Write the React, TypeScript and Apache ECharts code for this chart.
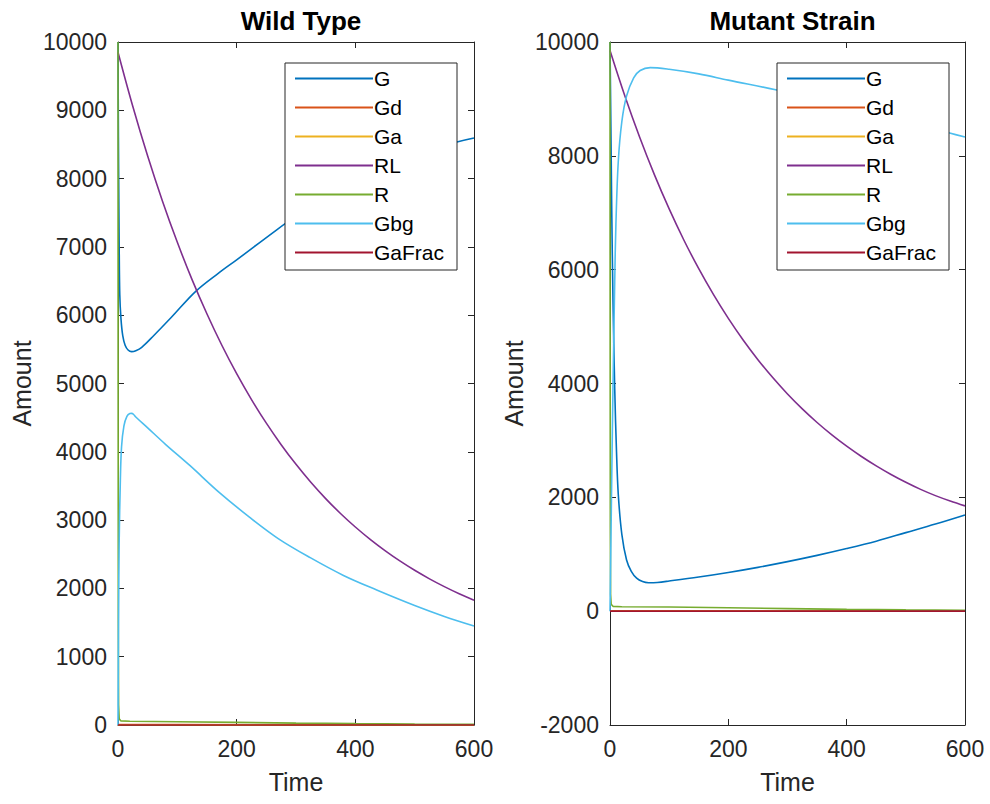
import React, { useEffect, useRef } from "react";
import * as echarts from "echarts";

// ---------- data ----------
const SERIES_NAMES = ["G", "Gd", "Ga", "RL", "R", "Gbg", "GaFrac"];
const SERIES_COLORS = ["#0072BD", "#D95319", "#EDB120", "#7E2F8E", "#77AC30", "#4DBEEE", "#A2142F"];
const PANEL_TITLES = ["Wild Type", "Mutant Strain"];
const X_TICKS = [0, 200, 400, 600];
const Y_RANGE_WILD = [0, 10000, 1000];
const Y_RANGE_MUTANT = [-2000, 10000, 2000];

// Wild type
const WT_G_T = [0, 0.5, 1, 2, 3, 5, 8, 12, 17, 23, 30, 40, 60, 90, 131, 170, 200, 267, 300, 350, 400, 450, 500, 550, 600];
const WT_G = [10000, 9000, 8200, 7000, 6300, 5950, 5700, 5560, 5490, 5466, 5480, 5530, 5700, 5970, 6350, 6620, 6810, 7247, 7450, 7730, 7970, 8180, 8350, 8490, 8594];
const WT_RL_T = [0, 25, 50, 75, 100, 125, 150, 175, 200, 225, 250, 275, 300, 325, 350, 375, 400, 425, 450, 475, 500, 525, 550, 575, 600];
const WT_RL = [9850, 9055, 8330, 7669, 7067, 6517, 6017, 5560, 5144, 4765, 4419, 4104, 3816, 3554, 3315, 3097, 2899, 2718, 2553, 2402, 2265, 2140, 2026, 1922, 1827];
const WT_GBG_T = [0, 0.5, 1, 2, 4, 6, 10, 15, 20, 23, 26, 30, 50, 80, 121, 170, 222, 270, 324, 380, 436, 500, 550, 600];
const WT_GBG = [0, 900, 1700, 2700, 3600, 4075, 4380, 4520, 4560, 4563, 4550, 4510, 4350, 4110, 3800, 3410, 3040, 2730, 2450, 2190, 1977, 1750, 1590, 1450];
const WT_R_T = [0, 0.2, 0.5, 1, 2, 5, 20, 100, 200, 300, 400, 500, 600];
const WT_R = [10000, 5000, 1500, 300, 90, 60, 55, 48, 38, 28, 20, 14, 10];
const WT_SMALL_T = [0, 1, 5, 20, 100, 300, 600];
const WT_GD = [0, 6, 8, 7, 6, 4, 3];
const WT_GA = [0, 3, 4, 4, 3, 2, 2];
const WT_GAFRAC = [0, 0.0003, 0.0004, 0.0004, 0.0003, 0.0002, 0.0002];

// Mutant strain
const MT_G_T = [0, 1, 2, 3, 5, 8, 11, 14, 20, 28, 36, 45, 55, 65, 80, 100, 150, 200, 250, 300, 350, 400, 450, 500, 550, 600];
const MT_G = [10000, 9000, 8000, 7000, 5500, 3900, 2800, 2050, 1350, 900, 700, 580, 520, 500, 505, 530, 600, 680, 770, 870, 980, 1100, 1230, 1380, 1530, 1690];
const MT_RL_T = [0, 25, 50, 75, 100, 125, 150, 175, 200, 225, 250, 275, 300, 325, 350, 375, 400, 425, 450, 475, 500, 525, 550, 575, 600];
const MT_RL = [9850, 9055, 8330, 7669, 7067, 6517, 6017, 5560, 5144, 4765, 4419, 4104, 3816, 3554, 3315, 3097, 2899, 2718, 2553, 2402, 2265, 2140, 2030, 1935, 1850];
const MT_GBG_T = [0, 1, 2, 3, 5, 8, 10, 14, 20, 28, 40, 51, 68, 100, 150, 200, 282, 350, 400, 450, 500, 574, 600];
const MT_GBG = [0, 800, 1600, 2400, 3900, 5800, 6800, 7900, 8600, 9050, 9370, 9500, 9550, 9520, 9440, 9330, 9156, 8990, 8860, 8730, 8600, 8400, 8330];
const MT_R_T = [0, 0.2, 0.5, 1, 2, 5, 20, 100, 200, 300, 400, 500, 600];
const MT_R = [10000, 5000, 1500, 300, 120, 85, 78, 72, 60, 45, 32, 22, 15];
const MT_SMALL_T = [0, 1, 5, 20, 100, 300, 600];
const MT_GD = [0, 6, 8, 7, 6, 4, 3];
const MT_GA = [0, 3, 4, 4, 3, 2, 2];
const MT_GAFRAC = [0, 0.0003, 0.0004, 0.0004, 0.0003, 0.0002, 0.0002];

// ---------- helpers ----------
const zip = (t: number[], v: number[]) => t.map((x, i) => [x, v[i]]);

const FONT = "'Liberation Sans', Arial, Helvetica, sans-serif";
const AXIS_COLOR = "#262626";

const PANELS = [
  {
    grid: { left: 118, top: 42, width: 356, height: 683 },
    yRange: Y_RANGE_WILD,
    legendLeft: 285,
    data: [
      zip(WT_G_T, WT_G),
      zip(WT_SMALL_T, WT_GD),
      zip(WT_SMALL_T, WT_GA),
      zip(WT_RL_T, WT_RL),
      zip(WT_R_T, WT_R),
      zip(WT_GBG_T, WT_GBG),
      zip(WT_SMALL_T, WT_GAFRAC),
    ],
  },
  {
    grid: { left: 610, top: 42, width: 355, height: 683 },
    yRange: Y_RANGE_MUTANT,
    legendLeft: 777,
    data: [
      zip(MT_G_T, MT_G),
      zip(MT_SMALL_T, MT_GD),
      zip(MT_SMALL_T, MT_GA),
      zip(MT_RL_T, MT_RL),
      zip(MT_R_T, MT_R),
      zip(MT_GBG_T, MT_GBG),
      zip(MT_SMALL_T, MT_GAFRAC),
    ],
  },
];

const plain = (v: number) => String(v);

function buildOption() {
  const grids: any[] = [];
  const xAxes: any[] = [];
  const yAxes: any[] = [];
  const series: any[] = [];
  const titles: any[] = [];
  const legends: any[] = [];
  const xMin = X_TICKS[0];
  const xMax = X_TICKS[X_TICKS.length - 1];
  const xInt = X_TICKS[1] - X_TICKS[0];

  PANELS.forEach((p, gi) => {
    grids.push({ ...p.grid, containLabel: false });
    const common = {
      gridIndex: gi,
      type: "value",
      splitLine: { show: false },
      axisLine: { show: true, onZero: false, lineStyle: { color: AXIS_COLOR, width: 1 } },
      axisTick: { show: true, inside: true, length: 6, lineStyle: { color: AXIS_COLOR } },
    };
    xAxes.push({
      ...common,
      position: "bottom",
      min: xMin,
      max: xMax,
      interval: xInt,
      axisLabel: { show: true, fontSize: 23, color: AXIS_COLOR, margin: 12, fontFamily: FONT, showMinLabel: true, showMaxLabel: true, formatter: plain },
      name: "Time",
      nameLocation: "middle",
      nameGap: 44,
      nameTextStyle: { fontSize: 25, color: AXIS_COLOR, fontFamily: FONT },
    });
    xAxes.push({
      ...common,
      position: "top",
      min: xMin,
      max: xMax,
      interval: xInt,
      axisLabel: { show: false },
    });
    const [yMin, yMax, yInt] = p.yRange;
    yAxes.push({
      ...common,
      position: "left",
      min: yMin,
      max: yMax,
      interval: yInt,
      axisLabel: { show: true, fontSize: 23, color: AXIS_COLOR, margin: 11, fontFamily: FONT, showMinLabel: true, showMaxLabel: true, formatter: plain },
      name: "Amount",
      nameLocation: "middle",
      nameRotate: 90,
      nameGap: 84,
      nameTextStyle: { fontSize: 25, color: AXIS_COLOR, fontFamily: FONT },
    });
    yAxes.push({
      ...common,
      position: "right",
      min: yMin,
      max: yMax,
      interval: yInt,
      axisLabel: { show: false },
    });
    titles.push({
      text: PANEL_TITLES[gi],
      left: p.grid.left + p.grid.width / 2,
      top: 3,
      textAlign: "center",
      textStyle: { fontSize: 26, fontWeight: "bold", color: "#000", fontFamily: FONT },
    });
    legends.push({
      orient: "vertical",
      left: p.legendLeft,
      top: 63,
      z: 30,
      data: SERIES_NAMES,
      icon: "rect",
      itemWidth: 78,
      itemHeight: 2,
      itemGap: 8,
      padding: [5, 13, 7, 10],
      backgroundColor: "#ffffff",
      borderColor: AXIS_COLOR,
      borderWidth: 1,
      borderRadius: 0,
      selectedMode: false,
      textStyle: { fontSize: 21, lineHeight: 21, height: 21, color: "#000", fontFamily: FONT, padding: [0, 0, 0, -4] },
    });
    SERIES_NAMES.forEach((name, si) => {
      series.push({
        name,
        type: "line",
        xAxisIndex: gi * 2,
        yAxisIndex: gi * 2,
        data: p.data[si],
        symbol: "none",
        showSymbol: false,
        smooth: name === "RL" || name === "Gbg" || name === "G" ? 0.35 : false,
        lineStyle: { color: SERIES_COLORS[si], width: 1.6 },
        itemStyle: { color: SERIES_COLORS[si] },
        z: 3,
      });
    });
  });

  return {
    animation: false,
    backgroundColor: "#ffffff",
    textStyle: { fontFamily: FONT },
    title: titles,
    legend: legends,
    grid: grids,
    xAxis: xAxes,
    yAxis: yAxes,
    series,
  };
}

export default function App() {
  const ref = useRef<HTMLDivElement>(null);
  useEffect(() => {
    document.body.style.margin = "0";
    if (!ref.current) return;
    const chart = echarts.init(ref.current, undefined, { renderer: "svg" });
    chart.setOption(buildOption() as any);
    return () => chart.dispose();
  }, []);
  return <div ref={ref} style={{ width: 990, height: 804 }} />;
}
